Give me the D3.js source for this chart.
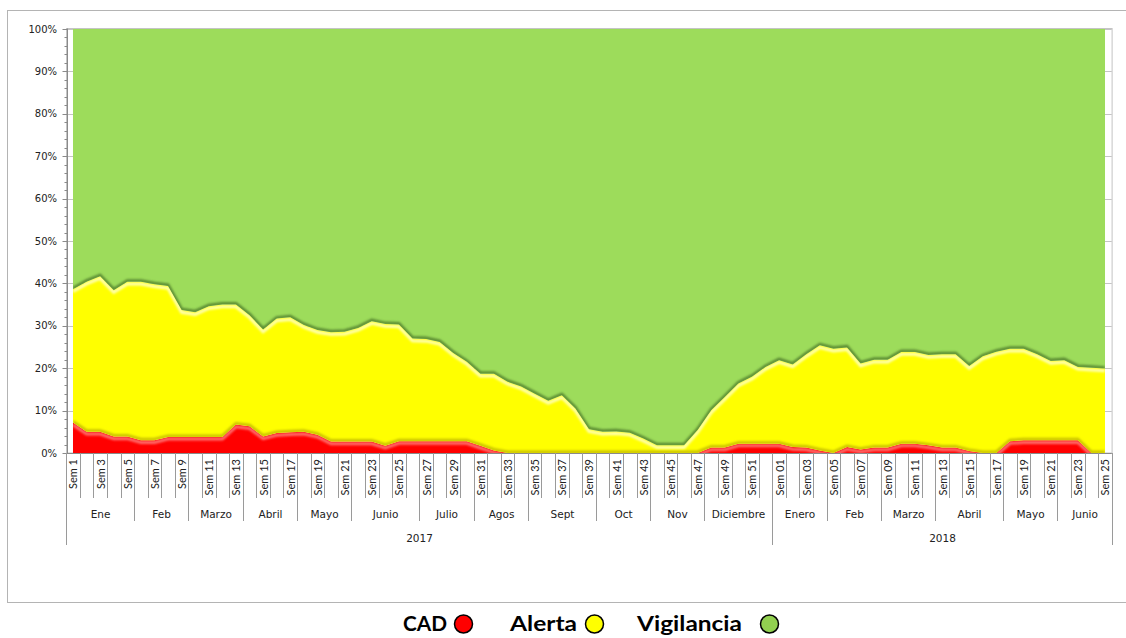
<!DOCTYPE html>
<html>
<head>
<meta charset="utf-8">
<script src="https://cdn.jsdelivr.net/npm/d3@7"></script>
<style>
  body { margin: 0; background: #fff; }
</style>
</head>
<body>
<script>
// weeks 2017 (Sem 1..52) then 2018 (Sem 01..25)
const weeks = [
  'Sem 1','Sem 2','Sem 3','Sem 4','Sem 5','Sem 6','Sem 7','Sem 8','Sem 9','Sem 10',
  'Sem 11','Sem 12','Sem 13','Sem 14','Sem 15','Sem 16','Sem 17','Sem 18','Sem 19','Sem 20',
  'Sem 21','Sem 22','Sem 23','Sem 24','Sem 25','Sem 26','Sem 27','Sem 28','Sem 29','Sem 30',
  'Sem 31','Sem 32','Sem 33','Sem 34','Sem 35','Sem 36','Sem 37','Sem 38','Sem 39','Sem 40',
  'Sem 41','Sem 42','Sem 43','Sem 44','Sem 45','Sem 46','Sem 47','Sem 48','Sem 49','Sem 50',
  'Sem 51','Sem 52',
  'Sem 01','Sem 02','Sem 03','Sem 04','Sem 05','Sem 06','Sem 07','Sem 08','Sem 09','Sem 10',
  'Sem 11','Sem 12','Sem 13','Sem 14','Sem 15','Sem 16','Sem 17','Sem 18','Sem 19','Sem 20',
  'Sem 21','Sem 22','Sem 23','Sem 24','Sem 25'
]
const months = ['Ene','Feb','Marzo','Abril','Mayo','Junio','Julio','Agos','Sept','Oct','Nov','Diciembre',
  'Enero','Feb','Marzo','Abril','Mayo','Junio']
const monthWeeks = [5,4,4,4,4,5,4,4,5,4,4,5, 4,4,4,5,4,4]
const years = ['2017', '2018']
const yearWeeks = [52, 25]

// % of cases per week
const cad = [7.2,5.0,5.0,3.9,3.9,3.0,3.0,3.8,3.8,3.8,3.8,3.8,6.7,6.3,3.9,4.7,4.9,5.0,4.3,2.7,
  2.7,2.7,2.7,1.7,2.8,2.8,2.8,2.8,2.8,2.8,1.7,0.6,0,0,0,0,0,0,0,0,
  0,0,0,0,0,0,0,1.3,1.3,2.2,2.2,2.2,
  2.2,1.4,1.3,0.6,0,1.4,0.8,1.3,1.3,2.2,2.2,1.8,1.3,1.3,0.5,0,0,2.8,3.0,3.0,3.0,3.0,3.0,0,0]
const alerta = [31.4,35.4,36.7,34.5,36.5,37.4,36.8,35.6,29.9,29.4,30.8,31.2,28.3,26.2,25.2,27.0,27.1,25.2,24.7,25.8,
  25.9,26.8,28.4,28.7,27.5,24.2,24.1,23.4,20.8,18.7,17.0,18.1,16.8,15.7,14.0,12.3,13.6,10.5,5.6,5.0,
  5.1,4.8,3.4,1.8,1.8,1.8,5.4,8.8,11.9,14.2,15.8,18.1,
  19.7,19.5,22.0,24.8,24.6,23.5,20.3,20.7,20.7,21.6,21.6,21.3,22.0,22.0,20.0,22.8,23.9,21.8,21.6,20.3,18.7,18.9,17.3,20.1,19.9]
const vigilancia = [61.4,59.6,58.3,61.6,59.6,59.6,60.2,60.6,66.3,66.8,65.4,65.0,65.0,67.5,70.9,68.3,68.0,69.8,71.0,71.5,
  71.4,70.5,68.9,69.6,69.7,73.0,73.1,73.8,76.4,78.5,81.3,81.3,83.2,84.3,86.0,87.7,86.4,89.5,94.4,95.0,
  94.9,95.2,96.6,98.2,98.2,98.2,94.6,89.9,86.8,83.6,82.0,79.7,
  78.1,79.1,76.7,74.6,75.4,75.1,78.9,78.0,78.0,76.2,76.2,76.9,76.7,76.7,79.5,77.2,76.1,75.4,75.4,76.7,78.3,78.1,79.7,79.9,80.1]

const keys = ['CAD', 'Alerta', 'Vigilancia']
const fills = ['#ff0000', '#ffff00', '#9ddc5b']
const highlights = ['#ff7070', '#ffffb4', '#c9f39a']
const shadows = ['#c9c200', '#5a8a33', null]
const legendFills = ['#ff0000', '#ffff00', '#92d050']

const W = 1126, H = 638
const svg = d3.select('body').append('svg')
  .attr('width', W).attr('height', H)
  .style('font-family', '"DejaVu Sans", Verdana, sans-serif')

const defs = svg.append('defs')
defs.append('filter').attr('id', 'blur').attr('x', '-5%').attr('y', '-5%').attr('width', '110%').attr('height', '110%')
  .append('feGaussianBlur').attr('stdDeviation', 1)

// outer frame
svg.append('rect').attr('x', 7.5).attr('y', 10.5).attr('width', 1130).attr('height', 592)
  .attr('fill', 'none').attr('stroke', '#b4b4b4')

const x = d3.scaleBand().domain(d3.range(weeks.length)).range([66.2, 1111.8])
const cx = i => x(i) + x.bandwidth() / 2
const y = d3.scaleLinear().domain([0, 1]).range([453, 29])
const left = x.range()[0], right = x.range()[1]

// gridlines (hidden behind the areas except at the edges)
svg.append('g').selectAll('line').data(d3.range(0.1, 1.01, 0.1)).join('line')
  .attr('x1', left).attr('x2', right).attr('y1', d => Math.round(y(d)) + 0.5).attr('y2', d => Math.round(y(d)) + 0.5)
  .attr('stroke', '#c4c4c4')

// plot frame
svg.append('rect').attr('x', left + 0.3).attr('y', 28.5).attr('width', right - left).attr('height', 453 - 28.5)
  .attr('fill', 'none').attr('stroke', '#c4c4c4')

const table = weeks.map((w, i) => ({ week: w, CAD: cad[i], Alerta: alerta[i], Vigilancia: vigilancia[i] }))
const series = d3.stack().keys(keys).offset(d3.stackOffsetExpand)(table)

const area = d3.area().x((d, i) => cx(i)).y0(d => y(d[0])).y1(d => y(d[1]))
const topLine = d3.line().x((d, i) => cx(i)).y(d => y(d[1]))

series.forEach((s, k) => {
  defs.append('clipPath').attr('id', 'clip' + k).append('path').attr('d', area(s))
})

const plot = svg.append('g')
series.forEach((s, k) => {
  plot.append('path').attr('d', area(s)).attr('fill', fills[k])
})

// bevel: light edge under each top line, dark edge above it
series.forEach((s, k) => {
  const g = plot.append('g').attr('clip-path', `url(#clip${k})`)
  g.append('path').attr('d', topLine(s)).attr('transform', 'translate(0,2.2)')
    .attr('fill', 'none').attr('stroke', highlights[k]).attr('stroke-width', 3).attr('filter', 'url(#blur)')
  // side edges
  const x0 = cx(0), x1 = cx(weeks.length - 1)
  g.append('line').attr('x1', x0 + 1).attr('x2', x0 + 1).attr('y1', 0).attr('y2', H)
    .attr('stroke', d3.color(fills[k]).darker(0.5)).attr('stroke-width', 2).attr('filter', 'url(#blur)')
  g.append('line').attr('x1', x1 - 1.5).attr('x2', x1 - 1.5).attr('y1', 0).attr('y2', H)
    .attr('stroke', d3.color(fills[k]).darker(0.7)).attr('stroke-width', 2.5).attr('filter', 'url(#blur)')
  if (shadows[k]) {
    const up = plot.append('g').attr('clip-path', `url(#clip${k + 1})`)
    up.append('path').attr('d', topLine(s)).attr('transform', 'translate(0,-1)')
      .attr('fill', 'none').attr('stroke', shadows[k]).attr('stroke-width', 3).attr('filter', 'url(#blur)')
  }
})

// y axis
const yAxis = svg.append('g')
yAxis.append('line').attr('x1', 67.5).attr('x2', 67.5).attr('y1', 28.5).attr('y2', 453).attr('stroke', '#8a8a8a')
yAxis.selectAll('.minor').data(d3.range(0, 1.001, 0.02)).join('line')
  .attr('x1', 64.5).attr('x2', 67.5).attr('y1', d => Math.round(y(d)) + 0.5).attr('y2', d => Math.round(y(d)) + 0.5)
  .attr('stroke', '#8a8a8a')
yAxis.selectAll('.major').data(d3.range(0, 1.001, 0.1)).join('line')
  .attr('x1', 62.5).attr('x2', 67.5).attr('y1', d => Math.round(y(d)) + 0.5).attr('y2', d => Math.round(y(d)) + 0.5)
  .attr('stroke', '#8a8a8a')
yAxis.selectAll('text').data(d3.range(0, 1.001, 0.1)).join('text')
  .attr('x', 57).attr('y', d => y(d)).attr('dy', '0.35em').attr('text-anchor', 'end')
  .attr('font-size', 10).attr('fill', '#222')
  .text(d => d3.format('.0%')(d))

// category axis
const xAxis = svg.append('g').attr('stroke', '#9a9a9a')
xAxis.append('line').attr('x1', left).attr('x2', right).attr('y1', 453.5).attr('y2', 453.5).attr('stroke', '#8a8a8a')
xAxis.selectAll('.sep').data(d3.range(weeks.length + 1)).join('line')
  .attr('x1', i => Math.round(i < weeks.length ? x(i) : right) + 0.5)
  .attr('x2', i => Math.round(i < weeks.length ? x(i) : right) + 0.5)
  .attr('y1', 453).attr('y2', 498)

const monthStarts = d3.cumsum([0, ...monthWeeks])
const edge = n => Math.round(n < weeks.length ? x(n) : right) + 0.5
xAxis.selectAll('.msep').data(monthStarts).join('line')
  .attr('x1', edge).attr('x2', edge).attr('y1', 498).attr('y2', 521)
const yearStarts = d3.cumsum([0, ...yearWeeks])
xAxis.selectAll('.ysep').data(yearStarts).join('line')
  .attr('x1', edge).attr('x2', edge).attr('y1', 521).attr('y2', 545)

svg.append('g').selectAll('text').data(weeks.map((w, i) => i).filter(i => i % 2 === 0)).join('text')
  .attr('transform', i => `translate(${cx(i) + 0.5},459) rotate(-90)`)
  .attr('dy', '0.36em').attr('text-anchor', 'end')
  .attr('font-family', 'Lato, sans-serif').attr('font-size', 11).attr('fill', '#222')
  .text(i => weeks[i])

svg.append('g').selectAll('text').data(months).join('text')
  .attr('x', (m, j) => (edge(monthStarts[j]) + edge(monthStarts[j + 1])) / 2)
  .attr('y', 518).attr('text-anchor', 'middle').attr('font-size', 10.5).attr('fill', '#222')
  .text(m => m)

svg.append('g').selectAll('text').data(years).join('text')
  .attr('x', (yr, j) => (edge(yearStarts[j]) + edge(yearStarts[j + 1])) / 2)
  .attr('y', 542).attr('text-anchor', 'middle').attr('font-size', 10.5).attr('fill', '#222')
  .text(yr => yr)

// legend (sits right at the bottom edge, as in the original)
const legendText = [{ x: 403, w: 44 }, { x: 510, w: 67 }, { x: 637, w: 105 }]
const legendDot = [463.5, 594.5, 769.5]
const legend = svg.append('g')
keys.forEach((key, k) => {
  legend.append('text').attr('x', legendText[k].x).attr('y', 631)
    .attr('font-family', 'Lato, sans-serif').attr('font-weight', 'bold').attr('font-size', 21)
    .attr('textLength', legendText[k].w).attr('lengthAdjust', 'spacingAndGlyphs')
    .attr('fill', '#000').text(key)
  legend.append('circle').attr('cx', legendDot[k]).attr('cy', 624).attr('r', 9)
    .attr('fill', legendFills[k]).attr('stroke', '#000').attr('stroke-width', 1.5)
})
</script>
</body>
</html>
